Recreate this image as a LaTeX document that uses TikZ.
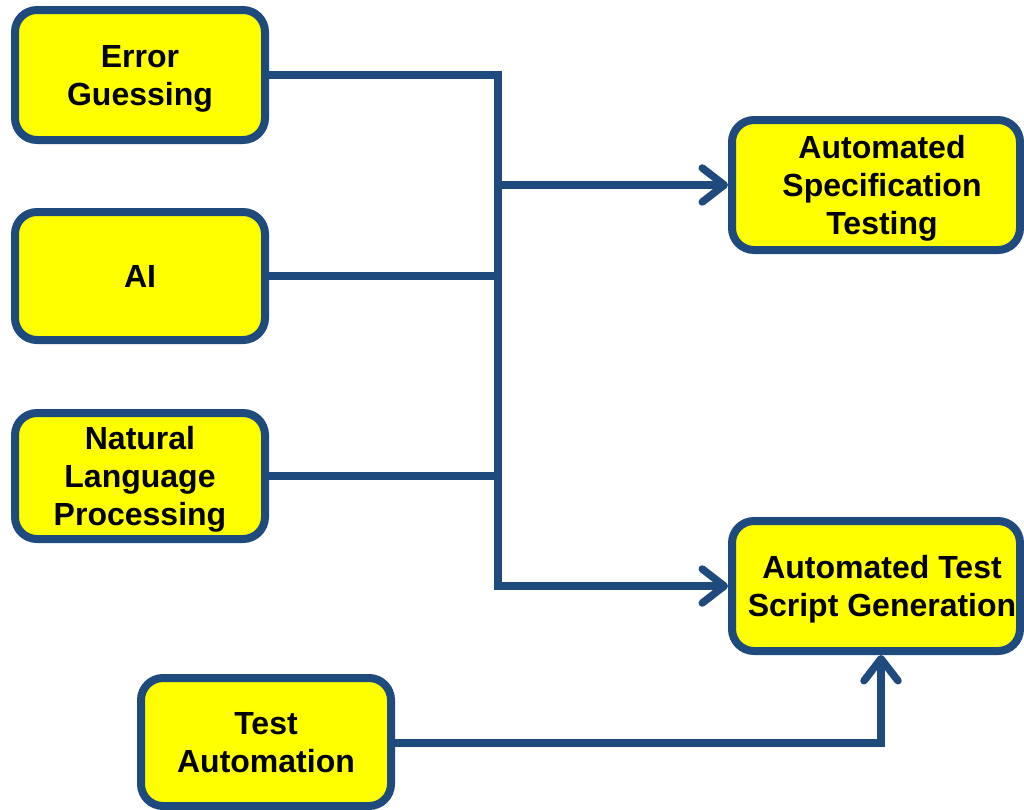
\documentclass[tikz,border=0pt]{standalone}
\usepackage{fontspec}
\setmainfont{Liberation Sans}
\usetikzlibrary{arrows.meta}
\definecolor{lineblue}{HTML}{1F4A7E}
\definecolor{boxyellow}{HTML}{FFFF00}
\begin{document}
\begin{tikzpicture}[x=1pt,y=-1pt,
  box/.style={draw=lineblue, line width=8pt, fill=boxyellow, rounded corners=22pt,
    minimum width=250pt, minimum height=130pt, inner sep=0pt, align=center,
    text depth=0pt, font=\fontsize{32}{38}\selectfont\bfseries},
  wide/.style={box, minimum width=288pt},
  conn/.style={draw=lineblue, line width=7.5pt, line join=miter},
  arr/.style={conn, -{Straight Barb[length=22pt,width=34pt,round]}}]
\useasboundingbox (0,0) rectangle (1024,809);
\node[box] (eg) at (140,75) {Error\\Guessing};
\node[box, minimum height=128pt] (ai) at (140,276) {AI};
\node[box, minimum height=126pt] (nlp) at (140,476) {Natural\\Language\\Processing};
\node[box, minimum height=128pt] (ta) at (266,742) {Test\\Automation};
\node[wide] (ast) at (876,185) {\hspace*{12pt}Automated\\\hspace*{12pt}Specification\\\hspace*{12pt}Testing};
\node[wide] (atsg) at (876,586) {\hspace*{12pt}Automated Test\\\hspace*{12pt}Script Generation};
\coordinate (j1) at (498,75);
\coordinate (j2) at (498,586);
\coordinate (j3) at (881,743);
\draw[arr] (eg.east) -- (j1) -- (j2) -- (atsg.west);
\draw[conn] (ai.east) -- (ai.east -| j1);
\draw[conn] (nlp.east) -- (nlp.east -| j1);
\draw[arr] (ast.west -| j1) -- (ast.west);
\draw[arr] (ta.east |- j3) -- (j3) -- (j3 |- atsg.south);
\end{tikzpicture}
\end{document}
